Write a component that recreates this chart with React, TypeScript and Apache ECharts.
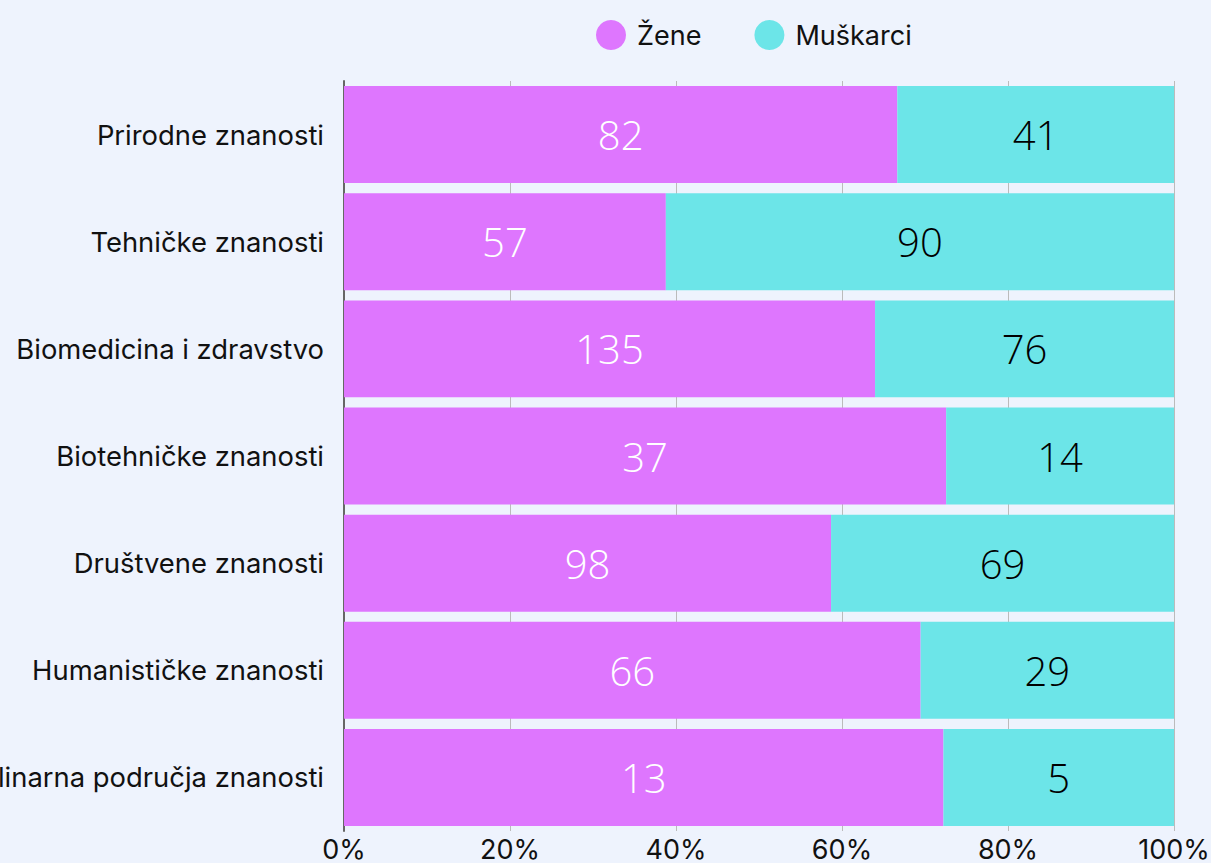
import React, { useEffect, useRef } from "react";
import * as echarts from "echarts";

const categories = [
  "Prirodne znanosti",
  "Tehničke znanosti",
  "Biomedicina i zdravstvo",
  "Biotehničke znanosti",
  "Društvene znanosti",
  "Humanističke znanosti",
  "Interdisciplinarna područja znanosti",
];
const zene = [82, 57, 135, 37, 98, 66, 13];
const muskarci = [41, 90, 76, 14, 69, 29, 5];
const xTicks = [0, 20, 40, 60, 80, 100];

export default function App() {
  const ref = useRef<HTMLDivElement>(null);
  useEffect(() => {
    document.body.style.margin = "0";
    document.body.style.background = "#eef3fd";
    const chart = echarts.init(ref.current!, null, { renderer: "svg" });
    const totals = zene.map((z, i) => z + muskarci[i]);
    const pct = (arr: number[]) =>
      arr.map((v, i) => ({ value: (v / totals[i]) * 100, raw: v }));
    chart.setOption({
      animation: false,
      backgroundColor: "#eef3fd",
      legend: {
        top: 15,
        left: 591,
        itemWidth: 30,
        itemHeight: 30,
        itemGap: 53,
        icon: "circle",
        textStyle: { fontSize: 27, color: "#111", fontFamily: "Inter", padding: [0, 0, 0, 6] },
        data: ["Žene", "Muškarci"],
      },
      grid: { left: 344, right: 37, top: 81, bottom: 32, outerBoundsMode: "none", containLabel: false },
      xAxis: {
        type: "value",
        min: 0,
        max: 100,
        interval: 20,
        axisLabel: {
          formatter: (v: number) => (xTicks.includes(v) ? v + "%" : ""),
          fontSize: 27,
          color: "#111",
          fontFamily: "Inter",
          margin: 5,
        },
        axisLine: { show: false },
        axisTick: { show: false },
        splitLine: { show: true, lineStyle: { color: "#bbbbbb", width: 1 } },
      },
      yAxis: {
        type: "category",
        inverse: true,
        data: categories,
        axisLine: { show: true, lineStyle: { color: "#666", width: 2 } },
        axisTick: { show: false },
        axisLabel: {
          fontSize: 27.4,
          color: "#111",
          fontFamily: "Inter",
          margin: 20,
        },
      },
      series: [
        {
          name: "Žene",
          type: "bar",
          stack: "total",
          barCategoryGap: "9.5%",
          itemStyle: { color: "#de76fe" },
          label: {
            show: true,
            position: "inside",
            formatter: (p: any) => String(p.data.raw),
            color: "#ffffff",
            fontSize: 40,
            fontWeight: 300,
            fontFamily: "Open Sans",
          },
          data: pct(zene),
        },
        {
          name: "Muškarci",
          type: "bar",
          stack: "total",
          barCategoryGap: "9.5%",
          itemStyle: { color: "#6ce5e8" },
          label: {
            show: true,
            position: "inside",
            formatter: (p: any) => String(p.data.raw),
            color: "#000000",
            fontSize: 40,
            fontWeight: 300,
            fontFamily: "Open Sans",
          },
          data: pct(muskarci),
        },
      ],
    });
    return () => chart.dispose();
  }, []);
  return <div ref={ref} style={{ width: 1211, height: 863 }} />;
}
